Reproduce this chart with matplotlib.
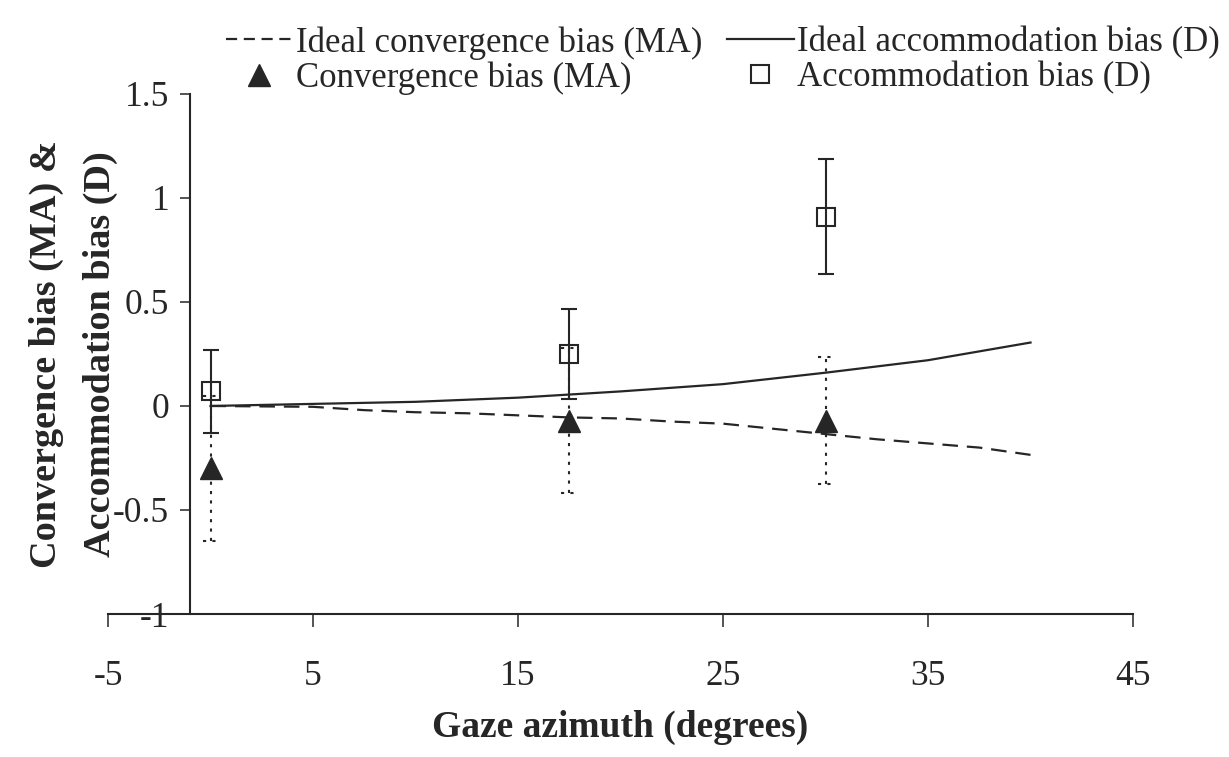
import matplotlib.pyplot as plt
from matplotlib.lines import Line2D

plt.rcParams['font.family'] = ['Liberation Serif', 'DejaVu Serif']
plt.rcParams['axes.unicode_minus'] = False

# ideal curves (gaze azimuth in degrees)
ideal_x = [0, 2.5, 5, 7.5, 10, 12.5, 15, 17.5, 20, 22.5, 25, 27.5, 30, 32.5, 35, 37.5, 40]
ideal_conv = [0, -0.002, -0.004, -0.02, -0.03, -0.035, -0.045, -0.055, -0.06, -0.075,
              -0.085, -0.11, -0.135, -0.16, -0.18, -0.2, -0.235]
ideal_acc_x = [0, 5, 10, 15, 20, 25, 30, 35, 40]
ideal_acc = [0, 0.01, 0.02, 0.04, 0.07, 0.105, 0.16, 0.22, 0.305]

# measured biases
azimuth = [0, 17.5, 30]
conv_bias = [-0.30, -0.07, -0.07]
conv_err = [0.35, 0.35, 0.305]
acc_bias = [0.07, 0.25, 0.91]
acc_err = [0.20, 0.215, 0.275]

xticks = [-5, 5, 15, 25, 35, 45]
yticks = [-1, -0.5, 0, 0.5, 1, 1.5]
ytick_labels = ['-1', '-0.5', '0', '0.5', '1', '1.5']

ink = '#262626'
dotted = (0, (1.5, 3))

fig = plt.figure(figsize=(12.29, 7.57), dpi=100)
ax = fig.add_axes([0.0879, 0.1889, 0.834, 0.687])

ax.plot(ideal_x, ideal_conv, color=ink, lw=1.6, dashes=(7, 4))
ax.plot(ideal_acc_x, ideal_acc, color=ink, lw=1.6)

# convergence: dotted error bars with dotted caps
lo = [b - e for b, e in zip(conv_bias, conv_err)]
hi = [b + e for b, e in zip(conv_bias, conv_err)]
cap_l = [a - 0.38 for a in azimuth]
cap_r = [a + 0.38 for a in azimuth]
ax.vlines(azimuth, lo, hi, colors=ink, lw=1.5, linestyles=dotted)
ax.hlines(lo, cap_l, cap_r, colors=ink, lw=1.5, linestyles=dotted)
ax.hlines(hi, cap_l, cap_r, colors=ink, lw=1.5, linestyles=dotted)
ax.plot(azimuth, conv_bias, linestyle='none', marker='^', ms=16, color=ink)

# accommodation: solid error bars, hollow squares
ax.errorbar(azimuth, acc_bias, yerr=acc_err, fmt='none', ecolor=ink,
            elinewidth=1.5, capsize=5.8, capthick=1.5)
ax.plot(azimuth, acc_bias, linestyle='none', marker='s', ms=13,
        mfc='none', mec=ink, mew=1.5)

ax.set_xlim(-5, 45)
ax.set_ylim(-1, 1.5)
ax.spines['top'].set_visible(False)
ax.spines['right'].set_visible(False)
ax.spines['left'].set_position(('data', -1))
for s in ('left', 'bottom'):
    ax.spines[s].set_color(ink)
    ax.spines[s].set_linewidth(1.5)

ax.set_xticks(xticks)
ax.set_xticklabels([str(t) for t in xticks])
ax.set_yticks(yticks)
ax.set_yticklabels(ytick_labels)
ax.tick_params(axis='x', direction='out', length=9, width=1.1, pad=24,
               labelsize=25.5, colors=ink)
ax.tick_params(axis='y', direction='out', length=7, width=1.1, pad=8,
               labelsize=25.5, colors=ink)

ax.set_xlabel('Gaze azimuth (degrees)', fontsize=27, fontweight='bold',
              color=ink, labelpad=12)
ax.set_ylabel('Convergence bias (MA) &\nAccommodation bias (D)', fontsize=27.5,
              fontweight='bold', color=ink, linespacing=1.7)
ax.yaxis.set_label_coords(0.010, 0.5)

handles = [
    Line2D([], [], color=ink, lw=1.6, dashes=(5, 3)),
    Line2D([], [], linestyle='none', marker='^', ms=16, color=ink),
    Line2D([], [], color=ink, lw=1.6),
    Line2D([], [], linestyle='none', marker='s', ms=13, mfc='none', mec=ink, mew=1.5),
]
labels = ['Ideal convergence bias (MA)', 'Convergence bias (MA)',
          'Ideal accommodation bias (D)', 'Accommodation bias (D)']
fig.legend(handles, labels, ncol=2, loc='upper right',
           bbox_to_anchor=(1220 / 1229, 1 - 26 / 757), frameon=False,
           fontsize=25, handlelength=1.93, handletextpad=0.1,
           columnspacing=0.7, labelspacing=0.05, borderpad=0,
           borderaxespad=0, labelcolor=ink)

fig.savefig('out.png', dpi=100)
